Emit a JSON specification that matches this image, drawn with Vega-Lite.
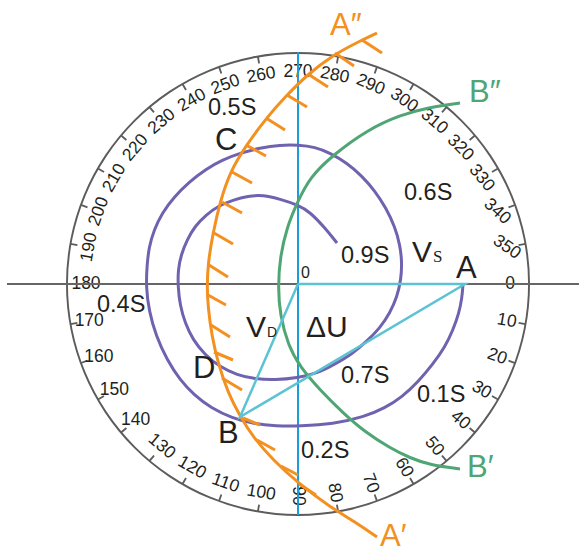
{
  "$schema": "https://vega.github.io/schema/vega-lite/v6.json",
  "width": 562,
  "height": 534,
  "autosize": {"type": "none"},
  "padding": {"left": 17, "top": 17, "right": 0, "bottom": 0},
  "background": "white",
  "config": {"view": {"stroke": null}},
  "datasets": {
    "dial": [
      {"deg": 0}, {"deg": 10}, {"deg": 20}, {"deg": 30}, {"deg": 40}, {"deg": 50},
      {"deg": 60}, {"deg": 70}, {"deg": 80}, {"deg": 90}, {"deg": 100}, {"deg": 110},
      {"deg": 120}, {"deg": 130}, {"deg": 140}, {"deg": 150}, {"deg": 160}, {"deg": 170},
      {"deg": 180}, {"deg": 190}, {"deg": 200}, {"deg": 210}, {"deg": 220}, {"deg": 230},
      {"deg": 240}, {"deg": 250}, {"deg": 260}, {"deg": 270}, {"deg": 280}, {"deg": 290},
      {"deg": 300}, {"deg": 310}, {"deg": 320}, {"deg": 330}, {"deg": 340}, {"deg": 350}
    ],
    "spiral": [
      {"x": 39, "y": 41}, {"x": 27, "y": 56}, {"x": 12, "y": 72}, {"x": 0, "y": 79},
      {"x": -18, "y": 85}, {"x": -35, "y": 89}, {"x": -50, "y": 88}, {"x": -65, "y": 84},
      {"x": -80, "y": 78}, {"x": -92, "y": 69}, {"x": -103, "y": 58}, {"x": -111, "y": 44},
      {"x": -117, "y": 29}, {"x": -120, "y": 14}, {"x": -120, "y": -3}, {"x": -118, "y": -21},
      {"x": -113, "y": -39}, {"x": -105, "y": -56}, {"x": -93, "y": -71}, {"x": -78, "y": -83},
      {"x": -61, "y": -91}, {"x": -43, "y": -95}, {"x": -23, "y": -96}, {"x": -1, "y": -94},
      {"x": 20, "y": -89}, {"x": 37, "y": -80}, {"x": 54, "y": -70}, {"x": 68, "y": -58},
      {"x": 82, "y": -44}, {"x": 92, "y": -29}, {"x": 99, "y": -13}, {"x": 103, "y": 4},
      {"x": 104, "y": 22}, {"x": 102, "y": 39}, {"x": 97, "y": 57}, {"x": 88, "y": 76},
      {"x": 77, "y": 93}, {"x": 64, "y": 108}, {"x": 49, "y": 121}, {"x": 32, "y": 131},
      {"x": 17, "y": 137}, {"x": 0, "y": 139}, {"x": -18, "y": 139}, {"x": -38, "y": 136},
      {"x": -58, "y": 131}, {"x": -76, "y": 124}, {"x": -92, "y": 115}, {"x": -109, "y": 102},
      {"x": -124, "y": 87}, {"x": -136, "y": 71}, {"x": -144, "y": 54}, {"x": -149, "y": 37},
      {"x": -151, "y": 19}, {"x": -152, "y": -3}, {"x": -149, "y": -27}, {"x": -142, "y": -52},
      {"x": -131, "y": -76}, {"x": -118, "y": -96}, {"x": -104, "y": -111}, {"x": -87, "y": -124},
      {"x": -66, "y": -134}, {"x": -44, "y": -140}, {"x": -22, "y": -142}, {"x": 2, "y": -142},
      {"x": 35, "y": -140}, {"x": 66, "y": -133}, {"x": 87, "y": -124}, {"x": 104, "y": -113},
      {"x": 120, "y": -98}, {"x": 135, "y": -80}, {"x": 147, "y": -63}, {"x": 155, "y": -46},
      {"x": 161, "y": -29}, {"x": 164, "y": -14}, {"x": 165, "y": 0}
    ],
    "arcB": [
      {"x": 162, "y": 181}, {"x": 132, "y": 177}, {"x": 102, "y": 169}, {"x": 69, "y": 154},
      {"x": 35, "y": 129}, {"x": 12, "y": 107}, {"x": -1, "y": 81}, {"x": -11, "y": 57},
      {"x": -18, "y": 27}, {"x": -20, "y": -3}, {"x": -18, "y": -31}, {"x": -10, "y": -61},
      {"x": 2, "y": -83}, {"x": 22, "y": -106}, {"x": 45, "y": -129}, {"x": 67, "y": -148},
      {"x": 92, "y": -164}, {"x": 112, "y": -174}, {"x": 132, "y": -181}, {"x": 162, "y": -185}
    ],
    "arcA": [
      {"x": 79, "y": 251}, {"x": 62, "y": 243}, {"x": 35, "y": 229}, {"x": 9, "y": 209},
      {"x": -11, "y": 189}, {"x": -31, "y": 167}, {"x": -53, "y": 137}, {"x": -68, "y": 112},
      {"x": -78, "y": 82}, {"x": -85, "y": 51}, {"x": -90, "y": 21}, {"x": -91, "y": -3},
      {"x": -90, "y": -23}, {"x": -86, "y": -53}, {"x": -80, "y": -79}, {"x": -70, "y": -109},
      {"x": -58, "y": -132}, {"x": -45, "y": -153}, {"x": -25, "y": -176}, {"x": 0, "y": -199},
      {"x": 32, "y": -223}, {"x": 59, "y": -239}, {"x": 79, "y": -253}
    ],
    "hatch": [
      {"x": 64, "y": 244, "x2": 84, "y2": 231}, {"x": 37, "y": 231, "x2": 56, "y2": 218},
      {"x": 10, "y": 210, "x2": 30, "y2": 197}, {"x": -11, "y": 189, "x2": 9, "y2": 177},
      {"x": -32, "y": 166, "x2": -13, "y2": 154}, {"x": -52, "y": 139, "x2": -32, "y2": 128},
      {"x": -66, "y": 112, "x2": -46, "y2": 101}, {"x": -76, "y": 82, "x2": -56, "y2": 71},
      {"x": -84, "y": 51, "x2": -65, "y2": 40}, {"x": -89, "y": 19, "x2": -70, "y2": 7},
      {"x": -90, "y": -11, "x2": -72, "y2": -21}, {"x": -87, "y": -41, "x2": -68, "y2": -53},
      {"x": -84, "y": -68, "x2": -65, "y2": -76}, {"x": -76, "y": -94, "x2": -56, "y2": -106},
      {"x": -55, "y": -134, "x2": -38, "y2": -141}, {"x": -41, "y": -156, "x2": -23, "y2": -166},
      {"x": -17, "y": -182, "x2": 0, "y2": -191}, {"x": 1, "y": -200, "x2": 18, "y2": -211}
    ],
    "triangle": [
      {"x": 0, "y": 0}, {"x": 167, "y": 0}, {"x": -58, "y": -133}, {"x": 0, "y": 0}
    ],
    "bigLetters": [
      {"t": "A", "x": 158, "y": 6}, {"t": "B", "x": -80, "y": -159},
      {"t": "C", "x": -83, "y": 134}, {"t": "D", "x": -105, "y": -94}
    ],
    "orangeLetters": [
      {"t": "A″", "x": 32, "y": 249}, {"t": "A′", "x": 82, "y": -262}
    ],
    "greenLetters": [
      {"t": "B″", "x": 171, "y": 182}, {"t": "B′", "x": 169, "y": -193}
    ],
    "times": [
      {"t": "0.5S", "x": -90, "y": 169}, {"t": "0.6S", "x": 106, "y": 84},
      {"t": "0.9S", "x": 43, "y": 21}, {"t": "0.4S", "x": -201, "y": -28},
      {"t": "0.7S", "x": 43, "y": -99}, {"t": "0.1S", "x": 119, "y": -118},
      {"t": "0.2S", "x": 3, "y": -174}
    ],
    "vectors": [
      {"t": "ΔU", "x": 8, "y": -53},
      {"t": "V", "x": 114, "y": 22},
      {"t": "V", "x": -52, "y": -53}
    ]
  },
  "layer": [
    {
      "data": {"values": [{"ring": 1}]},
      "mark": {"type": "arc", "radius": 232, "radius2": 230, "theta": 0, "theta2": 6.2832, "color": "#5c5c5c"},
      "encoding": {}
    },
    {
      "data": {"name": "dial"},
      "mark": {"type": "arc", "radius": 231, "radius2": 224, "thetaOffset": -0.004, "theta2Offset": 0.004, "color": "#5c5c5c"},
      "encoding": {
        "theta": {"field": "deg", "type": "quantitative", "stack": null, "scale": {"domain": [0, 360], "range": [1.5708, 7.854]}},
        "theta2": {"field": "deg"}
      }
    },
    {
      "data": {"name": "dial"},
      "mark": {"type": "text", "radius": 212, "fontSize": 17.5, "font": "Liberation Sans", "color": "#231f20", "align": "center", "baseline": "middle"},
      "encoding": {
        "theta": {"field": "deg", "type": "quantitative", "stack": null, "scale": {"domain": [0, 360], "range": [1.5708, 7.854]}},
        "text": {"field": "deg", "type": "quantitative"},
        "angle": {"field": "deg", "type": "quantitative", "legend": null,
          "scale": {"nice": false, "domain": [0, 90, 95, 130, 135, 180, 185, 270, 300, 330, 350], "range": [0, 90, 5, 40, 0, 0, -85, 0, 35, 50, 35]}}
      }
    },
    {
      "data": {"values": [{"x": -291, "x2": 281, "y": 0}]},
      "mark": {"type": "rule", "color": "#666666", "strokeWidth": 2},
      "encoding": {
        "x": {"field": "x", "type": "quantitative", "scale": {"domain": [-281, 281], "nice": false, "zero": false}, "axis": null},
        "x2": {"field": "x2"},
        "y": {"field": "y", "type": "quantitative", "scale": {"domain": [-267, 267], "nice": false, "zero": false}, "axis": null}
      }
    },
    {
      "data": {"values": [{"x": 0, "y": 232, "y2": -231}]},
      "mark": {"type": "rule", "color": "#1b9ddb", "strokeWidth": 2},
      "encoding": {
        "x": {"field": "x", "type": "quantitative", "axis": null},
        "y": {"field": "y", "type": "quantitative", "axis": null},
        "y2": {"field": "y2"}
      }
    },
    {
      "data": {"name": "spiral"},
      "mark": {"type": "line", "color": "#6f63b0", "strokeWidth": 3, "interpolate": "basis"},
      "encoding": {
        "x": {"field": "x", "type": "quantitative", "axis": null},
        "y": {"field": "y", "type": "quantitative", "axis": null},
        "order": {"value": null}
      }
    },
    {
      "data": {"name": "arcB"},
      "mark": {"type": "line", "color": "#4fa574", "strokeWidth": 3, "interpolate": "basis"},
      "encoding": {
        "x": {"field": "x", "type": "quantitative", "axis": null},
        "y": {"field": "y", "type": "quantitative", "axis": null},
        "order": {"value": null}
      }
    },
    {
      "data": {"name": "arcA"},
      "mark": {"type": "line", "color": "#f39020", "strokeWidth": 3, "interpolate": "basis"},
      "encoding": {
        "x": {"field": "x", "type": "quantitative", "axis": null},
        "y": {"field": "y", "type": "quantitative", "axis": null},
        "order": {"value": null}
      }
    },
    {
      "data": {"name": "hatch"},
      "mark": {"type": "rule", "color": "#f39020", "strokeWidth": 3},
      "encoding": {
        "x": {"field": "x", "type": "quantitative", "axis": null},
        "y": {"field": "y", "type": "quantitative", "axis": null},
        "x2": {"field": "x2"},
        "y2": {"field": "y2"}
      }
    },
    {
      "data": {"name": "triangle"},
      "mark": {"type": "line", "color": "#5cc3d3", "strokeWidth": 2.5},
      "encoding": {
        "x": {"field": "x", "type": "quantitative", "axis": null},
        "y": {"field": "y", "type": "quantitative", "axis": null},
        "order": {"value": null}
      }
    },
    {
      "data": {"name": "bigLetters"},
      "mark": {"type": "text", "fontSize": 31, "font": "Liberation Sans", "color": "#231f20", "align": "left", "baseline": "alphabetic"},
      "encoding": {
        "x": {"field": "x", "type": "quantitative", "axis": null},
        "y": {"field": "y", "type": "quantitative", "axis": null},
        "text": {"field": "t"}
      }
    },
    {
      "data": {"name": "orangeLetters"},
      "mark": {"type": "text", "fontSize": 31, "font": "Liberation Sans", "color": "#f39020", "align": "left", "baseline": "alphabetic"},
      "encoding": {
        "x": {"field": "x", "type": "quantitative", "axis": null},
        "y": {"field": "y", "type": "quantitative", "axis": null},
        "text": {"field": "t"}
      }
    },
    {
      "data": {"name": "greenLetters"},
      "mark": {"type": "text", "fontSize": 31, "font": "Liberation Sans", "color": "#4fa574", "align": "left", "baseline": "alphabetic"},
      "encoding": {
        "x": {"field": "x", "type": "quantitative", "axis": null},
        "y": {"field": "y", "type": "quantitative", "axis": null},
        "text": {"field": "t"}
      }
    },
    {
      "data": {"name": "times"},
      "mark": {"type": "text", "fontSize": 23.5, "font": "Liberation Sans", "color": "#231f20", "align": "left", "baseline": "alphabetic"},
      "encoding": {
        "x": {"field": "x", "type": "quantitative", "axis": null},
        "y": {"field": "y", "type": "quantitative", "axis": null},
        "text": {"field": "t"}
      }
    },
    {
      "data": {"name": "vectors"},
      "mark": {"type": "text", "fontSize": 30, "font": "Liberation Sans", "color": "#231f20", "align": "left", "baseline": "alphabetic"},
      "encoding": {
        "x": {"field": "x", "type": "quantitative", "axis": null},
        "y": {"field": "y", "type": "quantitative", "axis": null},
        "text": {"field": "t"}
      }
    },
    {
      "data": {"values": [{"t": "S", "x": 135, "y": 22}]},
      "mark": {"type": "text", "fontSize": 17, "font": "Liberation Serif", "color": "#231f20", "align": "left", "baseline": "alphabetic"},
      "encoding": {
        "x": {"field": "x", "type": "quantitative", "axis": null},
        "y": {"field": "y", "type": "quantitative", "axis": null},
        "text": {"field": "t"}
      }
    },
    {
      "data": {"values": [{"t": "D", "x": -31, "y": -53}]},
      "mark": {"type": "text", "fontSize": 14, "font": "Liberation Sans", "color": "#231f20", "align": "left", "baseline": "alphabetic"},
      "encoding": {
        "x": {"field": "x", "type": "quantitative", "axis": null},
        "y": {"field": "y", "type": "quantitative", "axis": null},
        "text": {"field": "t"}
      }
    },
    {
      "data": {"values": [{"t": "0", "x": 3, "y": 6}]},
      "mark": {"type": "text", "fontSize": 16, "font": "Liberation Sans", "color": "#231f20", "align": "left", "baseline": "alphabetic"},
      "encoding": {
        "x": {"field": "x", "type": "quantitative", "axis": null},
        "y": {"field": "y", "type": "quantitative", "axis": null},
        "text": {"field": "t"}
      }
    }
  ]
}
